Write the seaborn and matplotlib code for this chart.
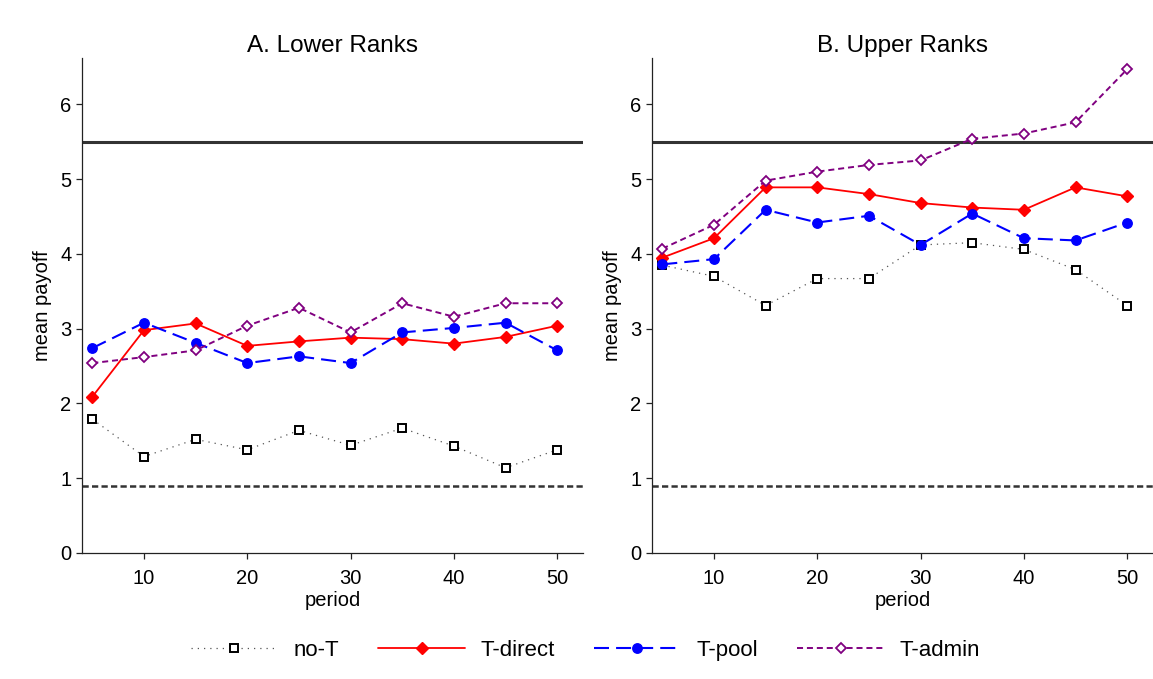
import matplotlib
matplotlib.use("Agg")
import matplotlib.pyplot as plt
import seaborn as sns

# ---- data -------------------------------------------------------------
periods = [5, 10, 15, 20, 25, 30, 35, 40, 45, 50]
treatments = ["no-T", "T-direct", "T-pool", "T-admin"]

lower_no_t = [1.79, 1.29, 1.52, 1.38, 1.64, 1.44, 1.67, 1.43, 1.14, 1.38]
lower_direct = [2.09, 2.98, 3.07, 2.77, 2.83, 2.88, 2.86, 2.80, 2.89, 3.04]
lower_pool = [2.74, 3.08, 2.81, 2.54, 2.63, 2.54, 2.95, 3.01, 3.08, 2.71]
lower_admin = [2.54, 2.62, 2.71, 3.04, 3.28, 2.95, 3.34, 3.16, 3.34, 3.34]

upper_no_t = [3.85, 3.70, 3.31, 3.67, 3.67, 4.12, 4.15, 4.06, 3.79, 3.31]
upper_direct = [3.95, 4.21, 4.89, 4.89, 4.80, 4.68, 4.62, 4.59, 4.89, 4.77]
upper_pool = [3.86, 3.93, 4.59, 4.42, 4.51, 4.12, 4.54, 4.21, 4.18, 4.42]
upper_admin = [4.07, 4.39, 4.98, 5.10, 5.19, 5.25, 5.54, 5.61, 5.76, 6.47]

panel_titles = ["A. Lower Ranks", "B. Upper Ranks"]
efficient_payoff = 5.5
baseline_payoff = 0.9

y_ticks = [0, 1, 2, 3, 4, 5, 6]
x_ticks = [10, 20, 30, 40, 50]

# ---- styles -----------------------------------------------------------
sns.set_style("ticks")
plt.rcParams["font.family"] = ["Liberation Sans", "DejaVu Sans"]
plt.rcParams["text.color"] = "black"
plt.rcParams["axes.labelcolor"] = "black"
plt.rcParams["xtick.color"] = "black"
plt.rcParams["ytick.color"] = "black"

styles = {
    "no-T": dict(color="#555555", linestyle=(0, (1, 4)), linewidth=0.9,
                 marker="s", markersize=5.5, markerfacecolor="white",
                 markeredgecolor="black", markeredgewidth=1.4),
    "T-direct": dict(color="#ff0000", linestyle="-", linewidth=1.3,
                     marker="D", markersize=5.8, markerfacecolor="#ff0000",
                     markeredgecolor="#ff0000", markeredgewidth=1.0),
    "T-pool": dict(color="#0000ff", linestyle=(0, (7.2, 3.4)), linewidth=1.5,
                   marker="o", markersize=6.8, markerfacecolor="#0000ff",
                   markeredgecolor="#0000ff", markeredgewidth=1.0),
    "T-admin": dict(color="#800080", linestyle=(0, (3.1, 2.0)), linewidth=1.4,
                    marker="D", markersize=5.0, markerfacecolor="white",
                    markeredgecolor="#800080", markeredgewidth=1.3),
}

panels = [
    dict(zip(treatments, [lower_no_t, lower_direct, lower_pool, lower_admin])),
    dict(zip(treatments, [upper_no_t, upper_direct, upper_pool, upper_admin])),
]

W, H = 1153, 679
fig = plt.figure(figsize=(W / 100, H / 100), dpi=100)

axes_left = [82 / W, 652 / W]
ax_bottom = 1 - 553 / H
ax_height = (553 - 58) / H
ax_width = 501 / W

axes = []
for i, series in enumerate(panels):
    ax = fig.add_axes([axes_left[i], ax_bottom, ax_width, ax_height])
    axes.append(ax)

    ax.axhline(efficient_payoff, color="#333333", linewidth=2.2, zorder=1)
    ax.axhline(baseline_payoff, color="#333333", linewidth=1.8,
               linestyle=(0, (2.5, 1.3)), zorder=1)

    for name in treatments:
        sns.lineplot(x=periods, y=series[name], ax=ax, label=name,
                     legend=False, zorder=3, **styles[name])

    ax.set_xlim(4.0, 52.5)
    ax.set_ylim(0, 6.62)
    ax.set_xticks(x_ticks)
    ax.set_yticks(y_ticks)
    ax.tick_params(axis="both", labelsize=14.5, length=4.5, width=0.9,
                   color="#222222", pad=3)
    ax.tick_params(axis="x", pad=7)
    for side in ("top", "right"):
        ax.spines[side].set_visible(False)
    for side in ("left", "bottom"):
        ax.spines[side].set_color("#222222")
        ax.spines[side].set_linewidth(0.9)

    ax.set_title(panel_titles[i], fontsize=17.5, pad=4)
    ax.set_xlabel("period", fontsize=14.5, labelpad=2)
    ax.set_ylabel("mean payoff", fontsize=14.5, labelpad=6)
    ax.grid(False)

handles, labels = axes[0].get_legend_handles_labels()
fig.legend(handles, labels, loc="center", bbox_to_anchor=(0.508, 0.042),
           ncol=4, frameon=False, fontsize=16, handlelength=3.9,
           handletextpad=0.72, columnspacing=1.75)

fig.savefig("out.png", dpi=100)
